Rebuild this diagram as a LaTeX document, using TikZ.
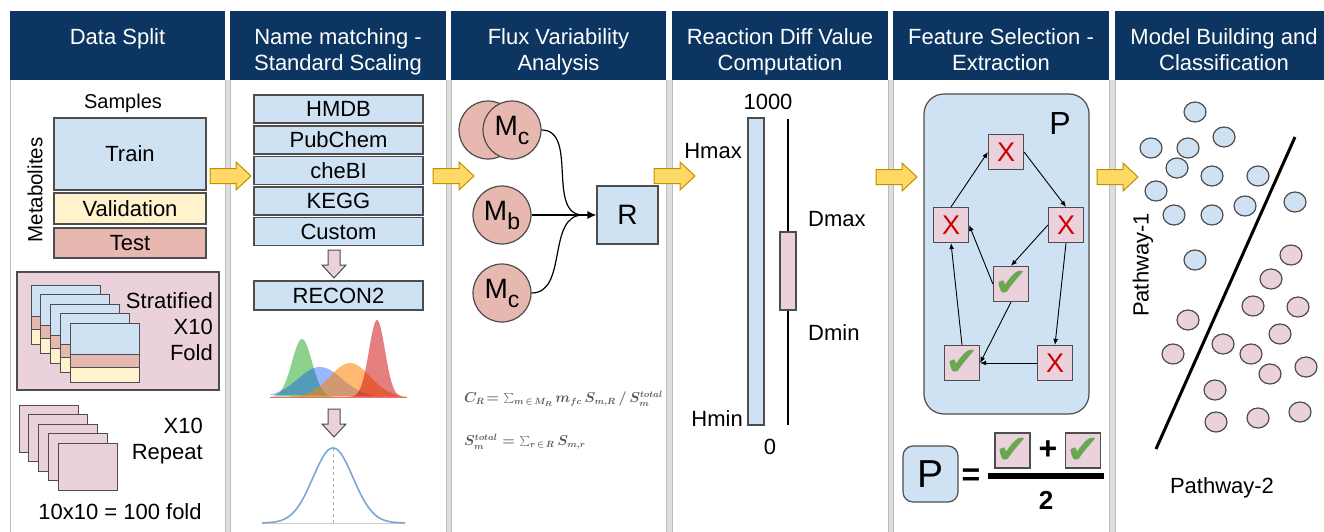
\documentclass[tikz,border=0pt]{standalone}
\usepackage{fontspec}
\setmainfont{Liberation Sans}
\newfontfamily\tickfont{DejaVu Sans}
\usetikzlibrary{arrows.meta,shapes.geometric}

\definecolor{headnavy}{RGB}{12,54,97}
\definecolor{trainblue}{HTML}{CFE2F3}
\definecolor{valyellow}{HTML}{FFF2CC}
\definecolor{testred}{HTML}{E6B8AF}
\definecolor{foldpink}{HTML}{EAD1DC}
\definecolor{edgegray}{HTML}{4D4D4D}
\definecolor{panelgray}{HTML}{BDBDBD}
\definecolor{gapgray}{HTML}{DEDEDE}
\definecolor{arrowyellow}{HTML}{FFD966}
\definecolor{arrowedge}{HTML}{BF9000}
\definecolor{tickgreen}{HTML}{6AA84F}
\definecolor{crossred}{HTML}{CC0000}
\definecolor{normblue}{HTML}{7EA6D3}
\definecolor{formulagray}{HTML}{5A5A5A}

\newcommand\mlabel[1]{{\fontsize{28}{28}\selectfont M}\raisebox{-9pt}{\fontsize{23}{23}\selectfont #1}}
\newcommand\tick{\makebox[0pt]{✔}}

\tikzset{
  stagearrow/.pic={\draw[draw=arrowedge, fill=arrowyellow, line width=1]
    (0,-7.5) -- (26,-7.5) -- (26,-14) -- (41,0) -- (26,14) -- (26,7.5) -- (0,7.5) -- cycle;},
  downarrow/.pic={\draw[draw=edgegray, fill=foldpink, line width=1]
    (-6,0) -- (6,0) -- (6,15) -- (12,15) -- (0,28) -- (-12,15) -- (-6,15) -- cycle;}
}

\begin{document}
\begin{tikzpicture}[x=1pt, y=-1pt,
  every node/.style = {font=\fontsize{22}{26}\selectfont, inner sep=0pt},
  headbox/.style = {fill=headnavy, anchor=north west},
  headtext/.style = {text=white, align=center, anchor=north},
  box/.style = {draw=edgegray, line width=1.2},
  mcirc/.style = {circle, draw=edgegray, line width=1.2, fill=testred, minimum size=58},
  xbox/.style = {box, fill=foldpink, minimum size=35, text=crossred, font=\fontsize{27}{27}\selectfont},
  vbox/.style = {box, fill=foldpink, minimum size=35, text=tickgreen, font=\tickfont\fontsize{40}{40}\selectfont},
  flow/.style = {-{Latex[length=6,width=5]}, line width=0.9},
  formula/.style = {anchor=west, text=formulagray, font=\fontsize{13.5}{15}\selectfont\boldmath},
  dot/.style = {ellipse, draw=edgegray, line width=1.2, minimum width=22, minimum height=20}]
  \useasboundingbox (0,0) rectangle (1324,532);
  \fill[white] (0,0) rectangle (1324,532);

  \foreach \a/\b in {225/230, 446/451, 666/672, 888/893, 1109/1115}
    \fill[gapgray] (\a,80) rectangle (\b,532);
  \foreach \l/\r/\c/\t [count=\i] in {10/225/117.5/{Data Split},
      230/446/338/{Name matching -\\Standard Scaling},
      451/666/558.5/{Flux Variability\\Analysis},
      672/888/780/{Reaction Diff Value\\Computation},
      893/1109/1001/{Feature Selection -\\Extraction},
      1115/1330/1224/{Model Building and\\Classification}} {
    \draw[panelgray, line width=1] (\l,80) -- (\l,532) (\r,80) -- (\r,532);
    \node[headbox, minimum width={\r-\l}, minimum height=69] (head\i) at (\l,11) {};
    \node[headtext] (title\i) at (\c,28) {\t};
  }

  % data split
  \node[font=\fontsize{20}{24}\selectfont] (samples) at (123,103) {Samples};
  \node[rotate=90, font=\fontsize{20.5}{24}\selectfont] (metab) at (35,190) {Metabolites};
  \node[box, fill=trainblue, minimum width=152, minimum height=72] (train) at (130,154) {Train};
  \node[box, fill=valyellow, minimum width=152, minimum height=31] (valid) at (130,208.5) {Validation};
  \node[box, fill=testred, minimum width=152, minimum height=30] (test) at (130,243) {Test};
  \node[box, fill=foldpink, minimum width=202, minimum height=118] (strat) at (118,331) {};
  \foreach \k in {0,...,4} {
    \begin{scope}[shift={(31+9.75*\k,285+9.5*\k)}]
      \draw[box, line width=1, fill=trainblue] (0,0) rectangle (69,31);
      \draw[box, line width=1, fill=testred] (0,31) rectangle (69,44);
      \draw[box, line width=1, fill=valyellow] (0,44) rectangle (69,59);
    \end{scope}
  }
  \node[align=right, anchor=east] (stratlbl) at (213,327) {Stratified\\X10\\Fold};
  \foreach \k in {0,...,4}
    \draw[box, line width=1, fill=foldpink] (19+9.75*\k,405+9.5*\k) rectangle +(59,47);
  \node[align=right, anchor=east] (repeatlbl) at (203,441) {X10\\Repeat};
  \node (total) at (120,512) {10x10 = 100 fold};

  % name matching
  \foreach \n/\y in {HMDB/109, PubChem/140, cheBI/170.5, KEGG/201, Custom/231.5}
    \node[box, fill=trainblue, minimum width=169, minimum height=28] (\n) at (338.5,\y) {\n};
  \pic at (334,250) {downarrow};
  \node[box, fill=trainblue, minimum width=169, minimum height=29] (recon) at (338.5,295.5) {RECON2};
  \fill[green!60!black, opacity=.45] plot[domain=270:342, samples=60] (\x,{397-58*exp(-((\x-302)/10)^2/2)}) -- cycle;
  \fill[blue!70!cyan, opacity=.4] plot[domain=270:407, samples=80] (\x,{397-30*exp(-((\x-320)/22)^2/2)}) -- cycle;
  \fill[orange, opacity=.55] plot[domain=290:407, samples=80] (\x,{397-34*exp(-((\x-350)/20)^2/2)}) -- cycle;
  \fill[red!80!black, opacity=.5] plot[domain=345:407, samples=60] (\x,{397-77*exp(-((\x-377)/8)^2/2)}) -- cycle;
  \draw[red!60, line width=1] (270,397) -- (407,397);
  \pic at (334,409) {downarrow};
  \draw[gray!40, line width=0.8] (262,523) -- (405,523);
  \draw[gray!60, dashed, line width=0.6] (333,448) -- (333,523);
  \draw[normblue, line width=1.6] plot[domain=262:405, samples=100] (\x,{523-75*exp(-((\x-333)/20)^2/2)});

  % flux variability
  \node[mcirc] (mback) at (488,130) {};
  \node[mcirc] (mc1) at (512,130) {\mlabel{c}};
  \node[mcirc] (mb) at (502,215) {\mlabel{b}};
  \node[mcirc] (mc2) at (502,293) {\mlabel{c}};
  \node[box, fill=trainblue, minimum width=61, minimum height=58, font=\fontsize{28}{28}\selectfont] (rnode) at (627.5,215) {R};
  \coordinate (join) at (583,215);
  \draw[line width=1.2] (mc1.east) to[out=0, in=180] (join);
  \draw[line width=1.2] (mc2.east) to[out=0, in=180] (join);
  \draw[line width=1.2, -{Latex[length=9,width=8]}] (mb.east) -- (rnode.west);
  \node[formula] (fcr) at (464,399) {$C_R\!= \sum_{m\,\in\, M_R} m_{fc}\, S_{m,R} \,/\, S_m^{total}$};
  \node[formula] (fst) at (464,442) {$S_m^{total} = \sum_{r\,\in\, R} S_{m,r}$};

  % reaction diff value
  \node (top1000) at (768,102) {1000};
  \node[box, fill=trainblue, minimum width=16, minimum height=307] (hbar) at (756,271.5) {};
  \node[anchor=east] (hmax) at (742,151) {Hmax};
  \node[anchor=east] (hmin) at (743,419) {Hmin};
  \node (zero) at (770,447) {0};
  \coordinate (dtop) at (788,119);
  \coordinate (dbot) at (788,425);
  \node[box, fill=foldpink, minimum width=16, minimum height=78] (dbar) at (788,271) {};
  \draw[line width=1.6] (dtop) -- (dbar.north) (dbar.south) -- (dbot);
  \node[anchor=west] (dmax) at (808,219) {Dmax};
  \node[anchor=west] (dmin) at (808,333) {Dmin};

  % feature selection
  \node[box, fill=trainblue, rounded corners=20, minimum width=165, minimum height=320] (pgroup) at (1006.5,254) {};
  \node[font=\fontsize{32}{32}\selectfont] (plabel) at (1060,123) {P};
  \node[xbox] (tx) at (1006,152) {X};
  \node[xbox] (lx) at (951,225) {X};
  \node[xbox] (rx) at (1066,225) {X};
  \node[vbox] (mv) at (1011,284) {\tick};
  \node[vbox] (bv) at (962,363) {\tick};
  \node[xbox] (bx) at (1055,363) {X};
  \draw[flow] (lx.north) -- (tx.west);
  \draw[flow] (tx.east) -- (rx.north);
  \draw[flow] (rx.west) -- (mv.north);
  \draw[flow] (mv.west) -- (lx.east);
  \draw[flow] (rx.south) -- (bx.north);
  \draw[flow] (mv.south) -- (bv.east);
  \draw[flow] (bx.west) -- (bv.east);
  \draw[flow] (bv.north) -- (lx.south);
  \node[box, fill=trainblue, rounded corners=10, minimum width=55, minimum height=56, font=\fontsize{39}{39}\selectfont] (pbox) at (930.5,474) {P};
  \node[font=\bfseries\fontsize{32}{32}\selectfont] (eq) at (971,477) {=};
  \node[vbox] (c1) at (1012.5,450.5) {\tick};
  \node[font=\bfseries\fontsize{32}{32}\selectfont] (plus) at (1048,450) {+};
  \node[vbox] (c2) at (1083,450.5) {\tick};
  \coordinate (fracl) at (988,476);
  \coordinate (fracr) at (1104,476);
  \draw[line width=6] (fracl) -- (fracr);
  \node[font=\bfseries\fontsize{26}{26}\selectfont] (two) at (1046,500) {2};

  % classification
  \foreach \px/\py [count=\k] in {1195/112, 1224/137, 1151/148, 1188/148, 1177/168, 1212/176, 1258/176,
      1156/191, 1174/215, 1212/215, 1245/206, 1295/202, 1195/260}
    \node[dot, fill=trainblue] (blue\k) at (\px,\py) {};
  \foreach \px/\py [count=\k] in {1291/255, 1271/279, 1253/306, 1298/307, 1188/320, 1280/334, 1173/354,
      1223/344, 1251/354, 1270/374, 1306/367, 1215/390, 1216/422, 1258/418, 1300/412}
    \node[dot, fill=foldpink] (pink\k) at (\px,\py) {};
  \coordinate (sepa) at (1295,137);
  \coordinate (sepb) at (1156,449);
  \draw[line width=3] (sepa) -- (sepb);
  \node[rotate=90] (path1) at (1143,265) {Pathway-1};
  \node (path2) at (1222,488) {Pathway-2};

  \foreach \ax/\ay in {210/176, 433/176, 654/176, 876/177, 1097/177}
    \pic at (\ax,\ay) {stagearrow};
\end{tikzpicture}
\end{document}
